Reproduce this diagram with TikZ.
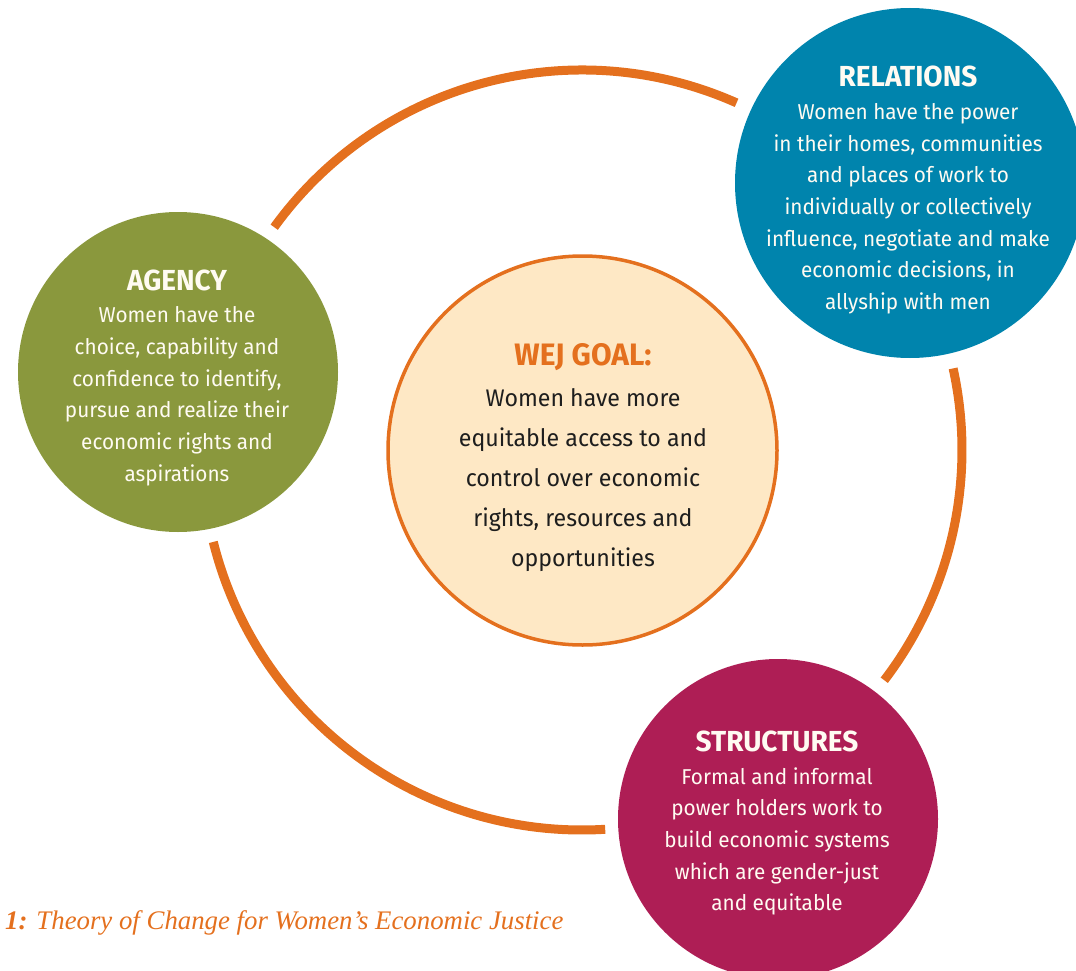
\documentclass[tikz,border=0pt]{standalone}
\usepackage{fontspec}
\setmainfont{Fira Sans}[FakeStretch=0.965]
\newfontfamily\captionfont{Liberation Serif}
\definecolor{ringorange}{HTML}{E4701E}
\definecolor{agencygreen}{HTML}{8A983D}
\definecolor{relblue}{HTML}{0084AD}
\definecolor{structmag}{HTML}{AE1E55}
\definecolor{goalcream}{HTML}{FEE8C5}
\definecolor{textdark}{HTML}{1E1E1E}
\definecolor{softwhite}{HTML}{FFFBF2}
\tikzset{
  ringarc/.style={draw=ringorange, line width=9pt, line cap=butt},
  disc/.style={circle, inner sep=0pt, minimum size=#1},
  titletext/.style={anchor=base, text=softwhite, inner sep=0pt, font=\fontsize{29}{34}\selectfont\bfseries},
  bodytext/.style={anchor=base, align=center, text=softwhite, inner sep=0pt,
    font=\fontsize{21.5}{31.7}\selectfont},
  goaltitle/.style={anchor=base, text=ringorange, inner sep=0pt, font=\fontsize{31}{36}\selectfont\bfseries},
  goalbody/.style={anchor=base, align=center, text=textdark, inner sep=0pt,
    font=\fontsize{24}{40}\selectfont},
}
\begin{document}
\begin{tikzpicture}[x=1pt,y=-1pt]
\useasboundingbox (0,0) rectangle (1076,971);
\clip (0,0) rectangle (1076,971);

% outer ring, broken where the three outer discs sit
\coordinate (ringc) at (582,450);
\draw[ringarc] (ringc) ++(-144.1:380) arc[start angle=-144.1, end angle=-66, radius=380];
\draw[ringarc] (ringc) ++(-12.4:380) arc[start angle=-12.4, end angle=37.3, radius=380];
\draw[ringarc] (ringc) ++(86.5:380) arc[start angle=86.5, end angle=166, radius=380];

% discs
\node[disc=320pt, fill=agencygreen] (agency) at (178,372) {};
\node[disc=350pt, fill=relblue] (relations) at (910,183) {};
\node[disc=320pt, fill=structmag] (structures) at (778,819) {};
\node[disc=389pt, fill=goalcream, draw=ringorange, line width=3.5pt] (goal) at (582.5,450.5) {};

% AGENCY (body nodes are placed by the baseline of their last line)
\node[titletext] (agency-title) at (177,290) {AGENCY};
\node[bodytext] (agency-body) at (177,481.2) {Women have the\\choice, capability and\\confidence to identify,\\pursue and realize their\\economic rights and\\aspirations};

% RELATIONS
\node[titletext] (relations-title) at (908,87) {RELATIONS};
\node[bodytext] (relations-body) at (908,309.5) {Women have the power\\in their homes, communities\\and places of work to\\individually or collectively\\influence, negotiate and make\\economic decisions, in\\allyship with men};

% STRUCTURES
\node[titletext] (structures-title) at (777,751.7) {STRUCTURES};
\node[bodytext] (structures-body) at (777,910.8) {Formal and informal\\power holders work to\\build economic systems\\which are gender-just\\and equitable};

% WEJ GOAL
\node[goaltitle] (goal-title) at (583,365) {WEJ GOAL:};
\node[goalbody] (goal-body) at (583,566) {Women have more\\equitable access to and\\control over economic\\rights, resources and\\opportunities};

% caption
\node[anchor=base west, inner sep=0pt, text=ringorange, font=\captionfont\itshape\fontsize{26.8}{32}\selectfont] (caption) at (5,929) {\textbf{1:} Theory of Change for Women’s Economic Justice};
\end{tikzpicture}
\end{document}
